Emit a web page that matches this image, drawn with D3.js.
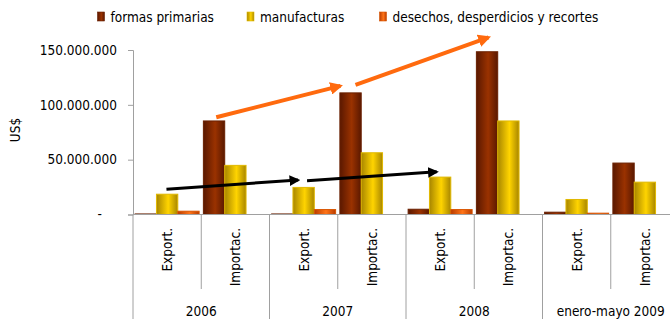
<!DOCTYPE html>
<html>
<head>
<meta charset="utf-8">
<script src="https://cdn.jsdelivr.net/npm/d3@7"></script>
<style>
    body { margin: 0; background: #ffffff; }
    svg { display: block; font-family: "DejaVu Sans Condensed", "DejaVu Sans", sans-serif; }
</style>
</head>
<body>
<div class="curr-graff"></div>
<script>
// Chart data
const years = ["2006", "2007", "2008", "enero-mayo 2009"];
const flows = ["Export.", "Importac."];
const seriesNames = ["formas primarias", "manufacturas", "desechos, desperdicios y recortes"];

// one value per (year, flow) pair, in the order 2006 Export., 2006 Importac., 2007 Export., ...
const formasPrimarias = [500000, 85300000, 500000, 110900000, 4800000, 148400000, 2100000, 46900000];
const manufacturas = [18500000, 44800000, 24700000, 56300000, 34100000, 85300000, 13700000, 29500000];
const desechos = [3000000, 0, 4500000, 0, 4500000, 0, 1200000, 0];

const yTicks = [0, 50000000, 100000000, 150000000];

// Trend arrows: [category position, value] for start and end
const orangeArrows = [
    [[1.22, 88700000], [3.04, 117300000]],
    [[3.26, 118100000], [5.21, 161600000]]
];
const blackArrows = [
    [[0.49, 23100000], [2.42, 31400000]],
    [[2.55, 30700000], [4.45, 38900000]]
];

// Bar colours: [edge, centre, stroke]
const barColors = [
    ["#5a1800", "#9a3200", "#6a2000"],
    ["#a88600", "#ffd400", "#e0b800"],
    ["#b83c00", "#ff7418", "#d85400"]
];

function DrawChart() {
    let width = 670;
    let height = 319;
    let left = 133;
    let right = 679; // the plot runs past the window edge
    let top = 50;
    let bottom = 214.5;

    let svg = d3.select(".curr-graff")
        .append("svg")
        .attr("width", width)
        .attr("height", height);

    // Gradients for the bars (dark edges, light centre)
    let defs = svg.append("defs");
    for (let i = 0; i < barColors.length; i++) {
        let grad = defs.append("linearGradient")
            .attr("id", "grad" + i)
            .attr("x1", "0").attr("x2", "1").attr("y1", "0").attr("y2", "0");
        grad.append("stop").attr("offset", "0%").attr("stop-color", barColors[i][0]);
        grad.append("stop").attr("offset", "55%").attr("stop-color", barColors[i][1]);
        grad.append("stop").attr("offset", "100%").attr("stop-color", barColors[i][0]);
    }
    ["orange", "black"].forEach(function(c) {
        defs.append("marker")
            .attr("id", "head-" + c)
            .attr("viewBox", "0 0 10 10")
            .attr("refX", 8).attr("refY", 5)
            .attr("markerWidth", c == "orange" ? 3.2 : 3.6)
            .attr("markerHeight", c == "orange" ? 3.2 : 3.6)
            .attr("orient", "auto")
            .append("path")
            .attr("d", "M0,0 L10,5 L0,10 z")
            .attr("fill", c == "orange" ? "#ff6a0e" : "#000000");
    });

    // Categories (year + flow)
    let cats = [];
    years.forEach(function(y) {
        flows.forEach(function(f) { cats.push(y + "|" + f); });
    });

    let scaleX = d3.scaleBand()
        .domain(cats)
        .range([left, right])
        .paddingInner(0)
        .paddingOuter(0);

    let scaleSeries = d3.scaleBand()
        .domain(seriesNames)
        .range([0, scaleX.bandwidth()])
        .paddingOuter(0.1)
        .paddingInner(0);

    let scaleY = d3.scaleLinear()
        .domain([0, 150000000])
        .range([bottom, top]);

    // Linear position along the categories, for the arrows
    let scalePos = d3.scaleLinear()
        .domain([0, cats.length])
        .range([left, right]);

    // Y axis
    let axisY = d3.axisLeft(scaleY)
        .tickValues(yTicks)
        .tickSize(5)
        .tickPadding(11)
        .tickFormat(function(d) {
            return d == 0 ? "-" : d3.format(",")(d).replace(/,/g, ".");
        });

    let gY = svg.append("g")
        .attr("transform", `translate(${left}, 0)`)
        .call(axisY);
    gY.select(".domain").attr("stroke", "#a0a0a0");
    gY.selectAll(".tick line").attr("stroke", "#a0a0a0");
    gY.selectAll(".tick text")
        .attr("font-size", "13.5px")
        .attr("fill", "#000")
        .attr("font-family", "DejaVu Sans Condensed");
    gY.selectAll(".tick text").filter(function(d) { return d == 0; }).attr("x", -31);

    // Axis title
    svg.append("text")
        .attr("transform", "translate(20, 130) rotate(-90)")
        .attr("text-anchor", "middle")
        .attr("font-size", "13.5px")
        .text("US$");

    // Bars
    let allSeries = [formasPrimarias, manufacturas, desechos];
    for (let s = 0; s < allSeries.length; s++) {
        svg.append("g")
            .selectAll("rect")
            .data(allSeries[s])
            .enter().append("rect")
            .attr("x", function(d, i) { return scaleX(cats[i]) + scaleSeries(seriesNames[s]); })
            .attr("width", scaleSeries.bandwidth())
            .attr("y", function(d) { return scaleY(d); })
            .attr("height", function(d) { return bottom - scaleY(d); })
            .attr("fill", "url(#grad" + s + ")")
            .attr("stroke", barColors[s][2])
            .attr("stroke-width", 1);
    }

    // X axis line
    svg.append("line")
        .attr("x1", left).attr("x2", right)
        .attr("y1", bottom).attr("y2", bottom)
        .attr("stroke", "#a0a0a0");

    // Separators: short ones between flows, long ones between years
    cats.forEach(function(c, i) {
        let isGroup = i % flows.length == 0;
        svg.append("line")
            .attr("x1", scaleX(c)).attr("x2", scaleX(c))
            .attr("y1", bottom).attr("y2", isGroup ? height : 289)
            .attr("stroke", "#a0a0a0");
    });

    // Flow labels (rotated)
    cats.forEach(function(c, i) {
        let cx = scaleX(c) + scaleX.bandwidth() / 2 + 5;
        svg.append("text")
            .attr("transform", `translate(${cx}, 228) rotate(-90)`)
            .attr("text-anchor", "end")
            .attr("font-size", "13.5px")
            .text(flows[i % flows.length]);
    });

    // Year labels
    years.forEach(function(y, i) {
        let gx = scaleX(cats[i * flows.length]) + scaleX.bandwidth();
        svg.append("text")
            .attr("x", gx).attr("y", 316)
            .attr("text-anchor", "middle")
            .attr("font-size", "13.5px")
            .text(y);
    });

    // Trend arrows
    function drawArrows(list, color, w, name) {
        svg.append("g")
            .selectAll("line")
            .data(list)
            .enter().append("line")
            .attr("x1", function(d) { return scalePos(d[0][0]); })
            .attr("y1", function(d) { return scaleY(d[0][1]); })
            .attr("x2", function(d) { return scalePos(d[1][0]); })
            .attr("y2", function(d) { return scaleY(d[1][1]); })
            .attr("stroke", color)
            .attr("stroke-width", w)
            .attr("marker-end", "url(#head-" + name + ")");
    }
    drawArrows(orangeArrows, "#ff6a0e", 4, "orange");
    drawArrows(blackArrows, "#000000", 3, "black");

    // Legend
    let legendX = [97.5, 247, 379.5];
    let legend = svg.append("g")
        .selectAll("g")
        .data(seriesNames)
        .enter().append("g")
        .attr("transform", function(d, i) { return `translate(${legendX[i]}, 12)`; });
    legend.append("rect")
        .attr("width", 7).attr("height", 9)
        .attr("fill", function(d, i) { return "url(#grad" + i + ")"; })
        .attr("stroke", function(d, i) { return barColors[i][2]; })
        .attr("stroke-width", 0.6);
    legend.append("text")
        .attr("x", 13).attr("y", 9.5)
        .attr("font-size", "13.5px")
        .text(function(d) { return d; });
}

DrawChart();
</script>
</body>
</html>
